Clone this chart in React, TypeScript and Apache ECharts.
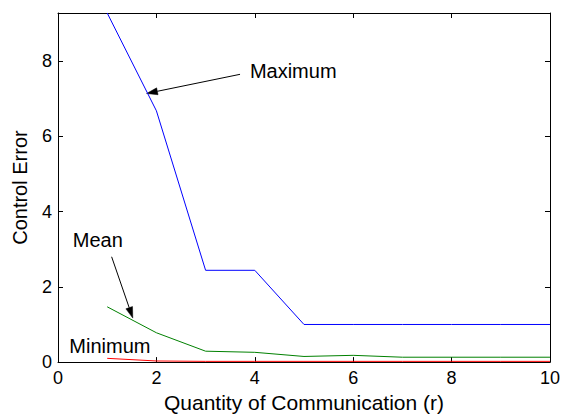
import React, { useEffect, useRef } from "react";
import * as echarts from "echarts";

const xValues = [1, 2, 3, 4, 5, 6, 7, 8, 9, 10];
const maximum = [9.28, 6.68, 2.44, 2.44, 1.0, 1.0, 1.0, 1.0, 1.0, 1.0];
const mean = [1.47, 0.78, 0.29, 0.26, 0.15, 0.18, 0.13, 0.13, 0.13, 0.13];
const minimum = [0.1, 0.03, 0.02, 0.02, 0.02, 0.02, 0.02, 0.02, 0.02, 0.02];

const xTitle = "Quantity of Communication (r)";
const yTitle = "Control Error";

// annotations in data coordinates
const annoMaximum = { text: "Maximum", tx: 3.9, ty: 7.74, sx: 3.7, sy: 7.65, ex: 1.8, ey: 7.14 };
const annoMean = { text: "Mean", tx: 0.3, ty: 3.24, sx: 1.09, sy: 2.8, ex: 1.52, ey: 1.17 };
const annoMinimum = { text: "Minimum", tx: 0.23, ty: 0.44 };

const FONT = '"Liberation Sans", Arial, sans-serif';

export default function App() {
  const ref = useRef<HTMLDivElement>(null);
  useEffect(() => {
    if (!ref.current) return;
    const chart = echarts.init(ref.current, undefined, { renderer: "svg" });
    const mk = (d: number[]) => xValues.map((x, i) => [x, d[i]]);
    const axisCommon = {
      type: "value" as const,
      axisLine: { show: true, onZero: false, lineStyle: { color: "#000", width: 1 } },
      axisTick: { show: true, inside: true, length: 5, lineStyle: { color: "#000" } },
      splitLine: { show: false },
    };
    chart.setOption({
      animation: false,
      backgroundColor: "#fff",
      grid: { left: 58, right: 13, top: 13, bottom: 46, containLabel: false },
      xAxis: [
        {
          ...axisCommon,
          position: "bottom",
          min: 0,
          max: 10,
          interval: 2,
          axisLabel: { color: "#000", fontSize: 18, fontFamily: FONT, margin: 7 },
          name: xTitle,
          nameLocation: "middle",
          nameGap: 27,
          nameTextStyle: { color: "#000", fontSize: 21, fontFamily: FONT },
        },
        {
          ...axisCommon,
          position: "top",
          min: 0,
          max: 10,
          interval: 2,
          axisLabel: { show: false },
        },
      ],
      yAxis: [
        {
          ...axisCommon,
          position: "left",
          min: 0,
          max: 9.28,
          interval: 2,
          axisLabel: { color: "#000", fontSize: 18, fontFamily: FONT, margin: 6, showMaxLabel: false },
          name: yTitle,
          nameLocation: "middle",
          nameGap: 28,
          nameTextStyle: { color: "#000", fontSize: 20, fontFamily: FONT },
        },
        {
          ...axisCommon,
          position: "right",
          min: 0,
          max: 9.28,
          interval: 2,
          axisLabel: { show: false },
        },
      ],
      series: [
        { type: "line", data: mk(maximum), showSymbol: false, lineStyle: { color: "#0000ff", width: 1 }, itemStyle: { color: "#0000ff" } },
        { type: "line", data: mk(mean), showSymbol: false, lineStyle: { color: "#008000", width: 1 }, itemStyle: { color: "#008000" } },
        { type: "line", data: mk(minimum), showSymbol: false, lineStyle: { color: "#ff0000", width: 1 }, itemStyle: { color: "#ff0000" } },
      ],
    });

    const px = (x: number, y: number) => chart.convertToPixel({ gridIndex: 0 }, [x, y]) as number[];
    const arrow = (a: { sx: number; sy: number; ex: number; ey: number }) => {
      const s = px(a.sx, a.sy);
      const e = px(a.ex, a.ey);
      const dx = e[0] - s[0];
      const dy = e[1] - s[1];
      const len = Math.sqrt(dx * dx + dy * dy);
      const ux = dx / len;
      const uy = dy / len;
      const hl = 11;
      const hw = 3.5;
      const bx = e[0] - ux * hl;
      const by = e[1] - uy * hl;
      return [
        { type: "line", shape: { x1: s[0], y1: s[1], x2: bx, y2: by }, style: { stroke: "#000", lineWidth: 1 } },
        {
          type: "polygon",
          shape: { points: [[e[0], e[1]], [bx - uy * hw, by + ux * hw], [bx + uy * hw, by - ux * hw]] },
          style: { fill: "#000", stroke: "#000", lineWidth: 0.5 },
        },
      ];
    };
    const label = (a: { text: string; tx: number; ty: number }) => {
      const p = px(a.tx, a.ty);
      return {
        type: "text",
        x: p[0],
        y: p[1],
        style: { text: a.text, fill: "#000", font: `20px ${FONT}`, textAlign: "left", textVerticalAlign: "middle" },
      };
    };
    chart.setOption({
      graphic: [
        ...arrow(annoMaximum),
        ...arrow(annoMean),
        label(annoMaximum),
        label(annoMean),
        label(annoMinimum),
      ],
    });
    return () => chart.dispose();
  }, []);
  return <div ref={ref} style={{ width: 563, height: 418, position: "absolute", left: 0, top: 0 }} />;
}
